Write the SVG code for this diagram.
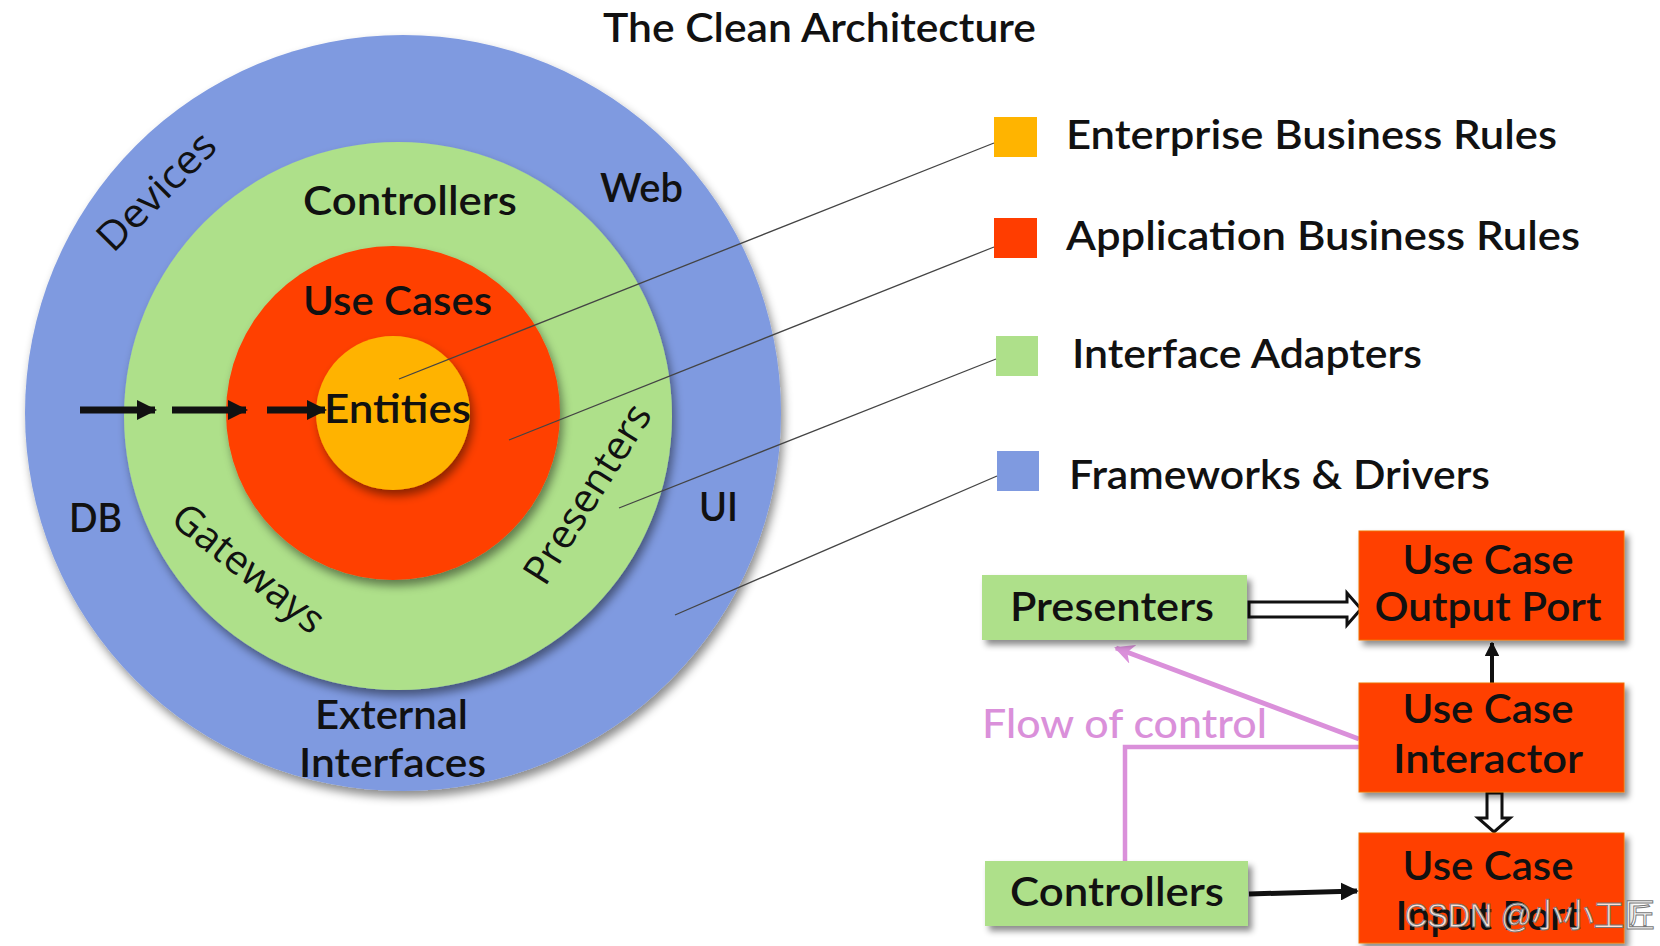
<svg xmlns="http://www.w3.org/2000/svg" width="1660" height="946" viewBox="0 0 1660 946">
<defs>
<filter id="cs" x="-20%" y="-20%" width="140%" height="140%"><feDropShadow dx="3" dy="6" stdDeviation="5" flood-color="#000" flood-opacity="0.45"/></filter>
<filter id="bs" x="-20%" y="-20%" width="140%" height="150%"><feDropShadow dx="4" dy="5" stdDeviation="3" flood-color="#000" flood-opacity="0.45"/></filter>
<marker id="ah" viewBox="0 0 10 10" refX="9" refY="5" markerWidth="2.9" markerHeight="2.9" orient="auto" markerUnits="strokeWidth"><path d="M0,0 L10,5 L0,10 z" fill="#111"/></marker>
<marker id="ahs" viewBox="0 0 10 10" refX="9" refY="5" markerWidth="3.6" markerHeight="3.6" orient="auto" markerUnits="strokeWidth"><path d="M0,0 L10,5 L0,10 z" fill="#111"/></marker>
<marker id="ap" viewBox="0 0 10 10" refX="9" refY="5" markerWidth="4" markerHeight="4" orient="auto" markerUnits="strokeWidth"><path d="M0,0 L10,5 L0,10 L3,5 z" fill="#DA90DA"/></marker>
</defs>
<style>
.t{font-family:Lato,"Liberation Sans",sans-serif;font-weight:600;fill:#111;font-size:40px}
.r{font-family:"Open Sans","DejaVu Sans",sans-serif;font-weight:500;fill:#111;font-size:40px}
.c{text-anchor:middle}
.lead{stroke:#444;stroke-width:1.3;fill:none}
.gbox{fill:#AEE08A}
.rbox{fill:#FF4000;stroke:#F07000;stroke-width:1}
</style>
<rect width="1660" height="946" fill="#fff"/>
<g id="title"><text class="t" x="603" y="42" textLength="433" lengthAdjust="spacingAndGlyphs">The Clean Architecture</text></g>

<g id="circles">
<circle cx="403" cy="413" r="378" fill="#7F9AE0" filter="url(#cs)"/>
<circle cx="398" cy="416" r="274" fill="#AEE08A" filter="url(#cs)"/>
<circle cx="393" cy="413" r="167" fill="#FF3F00" filter="url(#cs)"/>
<circle cx="393" cy="413" r="77" fill="#FFB300" filter="url(#cs)"/>
</g>
<g id="circle-labels">
<text class="r c" transform="translate(166,201) rotate(-45)" textLength="150" lengthAdjust="spacingAndGlyphs">Devices</text>
<text class="t" x="600" y="202" textLength="83" lengthAdjust="spacingAndGlyphs">Web</text>
<text class="t" x="303" y="215" textLength="214" lengthAdjust="spacingAndGlyphs">Controllers</text>
<text class="t" x="303" y="315" textLength="189" lengthAdjust="spacingAndGlyphs">Use Cases</text>
<text class="t" x="324" y="423" textLength="147" lengthAdjust="spacingAndGlyphs">Entities</text>
<text class="t" x="69" y="532" textLength="53" lengthAdjust="spacingAndGlyphs">DB</text>
<text class="t" x="699" y="521" textLength="39" lengthAdjust="spacingAndGlyphs">UI</text>
<text class="r c" transform="translate(240,579) rotate(38.5)" textLength="182" lengthAdjust="spacingAndGlyphs">Gateways</text>
<text class="r c" transform="translate(599,501) rotate(-58)" textLength="204" lengthAdjust="spacingAndGlyphs">Presenters</text>
<text class="t" x="315" y="729" textLength="153" lengthAdjust="spacingAndGlyphs">External</text>
<text class="t" x="299" y="777" textLength="187" lengthAdjust="spacingAndGlyphs">Interfaces</text>
</g>

<g id="legend">
<rect x="994" y="117" width="43" height="40" fill="#FFB400"/>
<text class="t" x="1066" y="149" textLength="491" lengthAdjust="spacingAndGlyphs">Enterprise Business Rules</text>
<rect x="994" y="218" width="43" height="40" fill="#FF3D00"/>
<text class="t" x="1066" y="250" textLength="514" lengthAdjust="spacingAndGlyphs">Application Business Rules</text>
<rect x="996" y="336" width="42" height="40" fill="#AEE08A"/>
<text class="t" x="1072" y="368" textLength="350" lengthAdjust="spacingAndGlyphs">Interface Adapters</text>
<rect x="997" y="451" width="42" height="40" fill="#7F9AE0"/>
<text class="t" x="1069" y="489" textLength="421" lengthAdjust="spacingAndGlyphs">Frameworks &amp; Drivers</text>
</g>

<g id="connectors">
<line class="lead" x1="399" y1="379" x2="994" y2="143"/>
<line class="lead" x1="509" y1="440" x2="994" y2="247"/>
<line class="lead" x1="619" y1="508" x2="996" y2="359"/>
<line class="lead" x1="675" y1="615" x2="997" y2="476"/>
<line x1="80" y1="410" x2="155" y2="410" stroke="#111" stroke-width="7" marker-end="url(#ah)"/>
<line x1="172" y1="410" x2="246" y2="410" stroke="#111" stroke-width="7" marker-end="url(#ah)"/>
<line x1="267" y1="410" x2="325" y2="410" stroke="#111" stroke-width="7" marker-end="url(#ah)"/>
<polygon points="1249,602 1347,602 1347,593 1361,609 1347,625 1347,617 1249,617" fill="#fff" stroke="#111" stroke-width="3" stroke-linejoin="miter"/>
<polygon points="1487,793 1487,818 1478,818 1494,832 1510,818 1502,818 1502,793" fill="#fff" stroke="#111" stroke-width="3"/>
<line x1="1492" y1="683" x2="1492" y2="643" stroke="#111" stroke-width="4" marker-end="url(#ahs)"/>
<line x1="1249" y1="894" x2="1357" y2="891" stroke="#111" stroke-width="5" marker-end="url(#ahs)"/>
<line x1="1359" y1="739" x2="1116" y2="648" stroke="#DA90DA" stroke-width="5" marker-end="url(#ap)"/>
<polyline points="1359,747 1125,747 1125,861" fill="none" stroke="#DA90DA" stroke-width="4.5"/>
</g>

<g id="flow-label"><text class="t" x="982" y="738" textLength="285" lengthAdjust="spacingAndGlyphs" style="fill:#DA90DA;font-weight:500">Flow of control</text></g>

<g id="presenters">
<rect class="gbox" x="982" y="575" width="265" height="65" filter="url(#bs)"/>
<text class="t" x="1010" y="621" textLength="204" lengthAdjust="spacingAndGlyphs">Presenters</text>
</g>
<g id="output-port">
<rect class="rbox" x="1359" y="531" width="265" height="109" filter="url(#bs)"/>
<text class="t c" x="1488" y="574" textLength="171" lengthAdjust="spacingAndGlyphs">Use Case</text>
<text class="t c" x="1488" y="621" textLength="227" lengthAdjust="spacingAndGlyphs">Output Port</text>
</g>
<g id="interactor">
<rect class="rbox" x="1359" y="683" width="265" height="109" filter="url(#bs)"/>
<text class="t c" x="1488" y="723" textLength="171" lengthAdjust="spacingAndGlyphs">Use Case</text>
<text class="t c" x="1488" y="773" textLength="190" lengthAdjust="spacingAndGlyphs">Interactor</text>
</g>
<g id="input-port">
<rect class="rbox" x="1359" y="833" width="265" height="110" filter="url(#bs)"/>
<text class="t c" x="1488" y="880" textLength="171" lengthAdjust="spacingAndGlyphs">Use Case</text>
<text class="t c" x="1488" y="930" textLength="185" lengthAdjust="spacingAndGlyphs">Input Port</text>
</g>
<g id="controllers">
<rect class="gbox" x="985" y="861" width="263" height="65" filter="url(#bs)"/>
<text class="t" x="1010" y="906" textLength="214" lengthAdjust="spacingAndGlyphs">Controllers</text>
</g>
<g id="watermark"><text x="1405" y="927" textLength="250" lengthAdjust="spacingAndGlyphs" style="font-family:'Liberation Sans','Noto Sans CJK SC',sans-serif;font-size:33px;fill:#fff;fill-opacity:0.85;stroke:#777;stroke-width:1">CSDN @小小工匠</text></g>
</svg>
